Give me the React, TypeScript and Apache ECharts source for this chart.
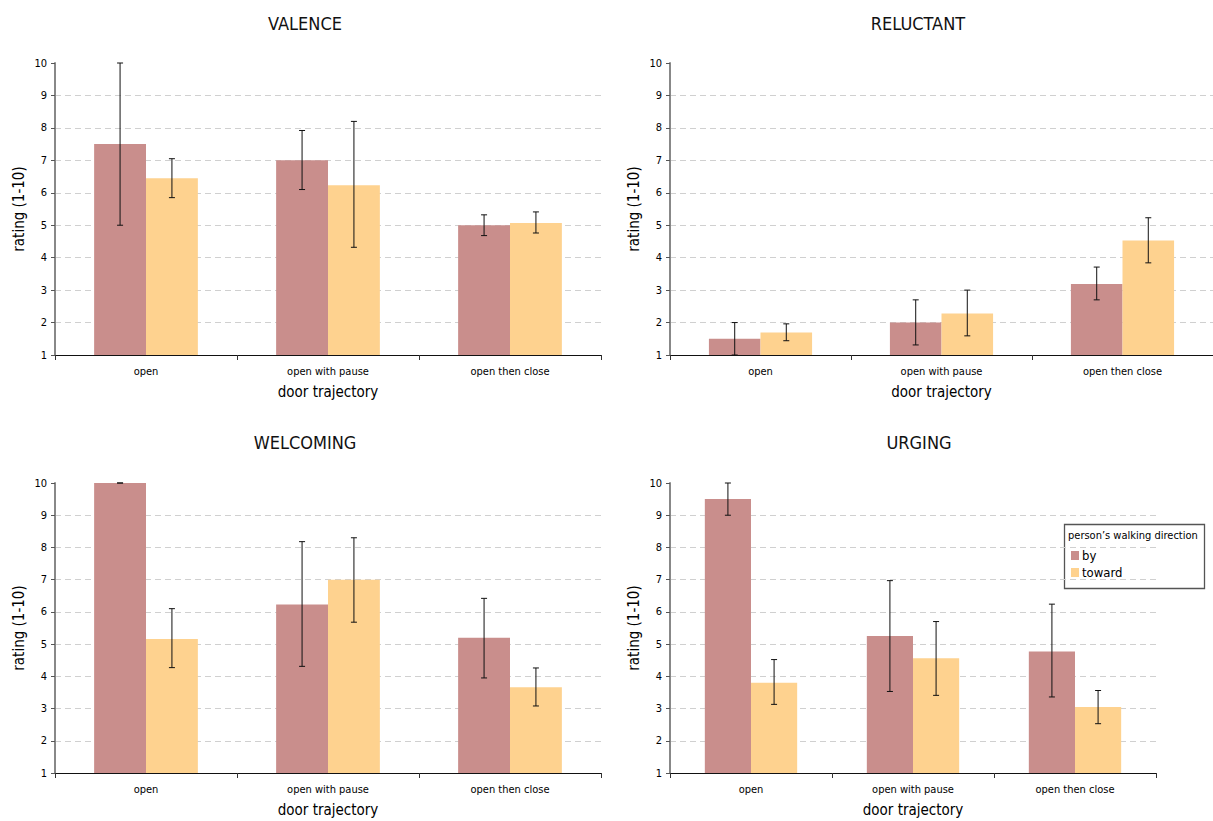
import React, { useEffect, useRef } from "react";
import * as echarts from "echarts";

const categories = ["open", "open with pause", "open then close"];
const seriesNames = ["by", "toward"];
const panelTitles = ["VALENCE", "RELUCTANT", "WELCOMING", "URGING"];
const legendTitle = "person’s walking direction";
const xAxisName = "door trajectory";
const yAxisName = "rating (1-10)";

const valenceBy = [7.5, 7.0, 5.0];
const valenceByLow = [5.0, 6.1, 4.68];
const valenceByHigh = [10.0, 7.92, 5.32];
const valenceToward = [6.45, 6.23, 5.07];
const valenceTowardLow = [5.85, 4.32, 4.76];
const valenceTowardHigh = [7.05, 8.2, 5.41];

const reluctantBy = [1.5, 2.0, 3.19];
const reluctantByLow = [1.0, 1.31, 2.7];
const reluctantByHigh = [2.0, 2.7, 3.71];
const reluctantToward = [1.69, 2.28, 4.53];
const reluctantTowardLow = [1.44, 1.59, 3.84];
const reluctantTowardHigh = [1.96, 3.0, 5.23];

const welcomingBy = [10.0, 6.23, 5.2];
const welcomingByLow = [10.0, 4.31, 3.95];
const welcomingByHigh = [10.0, 8.18, 6.42];
const welcomingToward = [5.16, 7.0, 3.66];
const welcomingTowardLow = [4.27, 5.68, 3.08];
const welcomingTowardHigh = [6.1, 8.3, 4.26];

const urgingBy = [9.5, 5.25, 4.77];
const urgingByLow = [9.0, 3.53, 3.36];
const urgingByHigh = [10.0, 6.97, 6.24];
const urgingToward = [3.8, 4.56, 3.05];
const urgingTowardLow = [3.13, 3.41, 2.53];
const urgingTowardHigh = [4.52, 5.7, 3.56];

const yMin = 1;
const yMax = 10;
const yInterval = 1;

const COLORS = ["#c98e8c", "#fed28f"];
const FONT = "'Liberation Sans Narrow', 'DejaVu Sans Condensed', 'Roboto', sans-serif";

const panels = [
  { title: panelTitles[0], by: valenceBy, byLow: valenceByLow, byHigh: valenceByHigh, tw: valenceToward, twLow: valenceTowardLow, twHigh: valenceTowardHigh },
  { title: panelTitles[1], by: reluctantBy, byLow: reluctantByLow, byHigh: reluctantByHigh, tw: reluctantToward, twLow: reluctantTowardLow, twHigh: reluctantTowardHigh },
  { title: panelTitles[2], by: welcomingBy, byLow: welcomingByLow, byHigh: welcomingByHigh, tw: welcomingToward, twLow: welcomingTowardLow, twHigh: welcomingTowardHigh },
  { title: panelTitles[3], by: urgingBy, byLow: urgingByLow, byHigh: urgingByHigh, tw: urgingToward, twLow: urgingTowardLow, twHigh: urgingTowardHigh },
];

const grids = [
  { left: 55, top: 63, width: 546, height: 292 },
  { left: 670, top: 63, width: 543, height: 292 },
  { left: 55, top: 483, width: 546, height: 290 },
  { left: 670, top: 483, width: 486, height: 290 },
];
const titlePos = [
  { x: 305, y: 23 },
  { x: 918, y: 23 },
  { x: 305, y: 442 },
  { x: 919, y: 442 },
];

const GAP = 0.43;

function errorSeries(gi: number, low: number[], high: number[], side: number) {
  return {
    type: "custom",
    xAxisIndex: gi,
    yAxisIndex: gi,
    silent: true,
    z: 10,
    encode: { x: 0, y: [1, 2] },
    data: low.map((l, i) => [i, l, high[i]]),
    renderItem: (params: any, api: any) => {
      const ci = api.value(0);
      const lo = api.coord([ci, api.value(1)]);
      const hi = api.coord([ci, api.value(2)]);
      const band = api.size([1, 0])[0];
      const x = lo[0] + side * band * (1 - GAP) / 4;
      const cap = 3;
      const st = { stroke: "#111", lineWidth: 1 };
      return {
        type: "group",
        children: [
          { type: "line", shape: { x1: x, y1: hi[1], x2: x, y2: lo[1] }, style: st },
          { type: "line", shape: { x1: x - cap, y1: hi[1], x2: x + cap, y2: hi[1] }, style: st },
          { type: "line", shape: { x1: x - cap, y1: lo[1], x2: x + cap, y2: lo[1] }, style: st },
        ],
      };
    },
  };
}

export default function App() {
  const ref = useRef<HTMLDivElement>(null);
  useEffect(() => {
    if (!ref.current) return;
    const chart = echarts.init(ref.current, null, { renderer: "svg" });
    const series: any[] = [];
    panels.forEach((p, gi) => {
      series.push({
        name: seriesNames[0],
        type: "bar",
        xAxisIndex: gi,
        yAxisIndex: gi,
        data: p.by,
        itemStyle: { color: COLORS[0] },
        barGap: "0%",
        barCategoryGap: GAP * 100 + "%",
      });
      series.push({
        name: seriesNames[1],
        type: "bar",
        xAxisIndex: gi,
        yAxisIndex: gi,
        data: p.tw,
        itemStyle: { color: COLORS[1] },
        barGap: "0%",
        barCategoryGap: GAP * 100 + "%",
      });
      series.push(errorSeries(gi, p.byLow, p.byHigh, -1));
      series.push(errorSeries(gi, p.twLow, p.twHigh, 1));
    });

    const option: any = {
      animation: false,
      backgroundColor: "#ffffff",
      textStyle: { fontFamily: FONT },
      grid: grids.map((g) => ({ ...g, containLabel: false })),
      xAxis: grids.map((_, gi) => ({
        type: "category",
        gridIndex: gi,
        data: categories,
        name: xAxisName,
        nameLocation: "middle",
        nameGap: 29,
        nameTextStyle: { fontSize: 15, color: "#000", fontFamily: FONT },
        axisLine: { lineStyle: { color: "#111", width: 1 } },
        axisTick: { show: true, length: 5, lineStyle: { color: "#333" } },
        axisLabel: { fontSize: 11, color: "#000", margin: 11, fontFamily: FONT },
        splitLine: { show: false },
      })),
      yAxis: grids.map((_, gi) => ({
        type: "value",
        gridIndex: gi,
        min: yMin,
        max: yMax,
        interval: yInterval,
        name: yAxisName,
        nameLocation: "middle",
        nameGap: 29,
        nameTextStyle: { fontSize: 15, color: "#000", fontFamily: FONT },
        axisLine: { show: true, lineStyle: { color: "#888", width: 2 } },
        axisTick: { show: true, length: 4, lineStyle: { color: "#555" } },
        axisLabel: { fontSize: 11, color: "#000", margin: 8, fontFamily: FONT },
        splitLine: {
          show: true,
          showMinLine: false,
          showMaxLine: false,
          lineStyle: { color: "#d0d0d0", type: [6, 4], width: 1 },
        },
      })),
      legend: {
        data: seriesNames,
        orient: "vertical",
        left: 1071,
        top: 549,
        padding: 0,
        itemWidth: 8,
        itemHeight: 9,
        itemGap: 4,
        icon: "rect",
        textStyle: { fontSize: 13, color: "#000", fontFamily: FONT, padding: [0, 0, 0, -2] },
      },
      graphic: [
        ...panelTitles.map((t, i) => ({
          type: "text",
          x: titlePos[i].x,
          y: titlePos[i].y,
          style: {
            text: t,
            fontSize: 18,
            fontFamily: FONT,
            fill: "#111",
            align: "center",
            verticalAlign: "middle",
          },
        })),
        {
          type: "rect",
          shape: { x: 1064.5, y: 524.5, width: 140, height: 64 },
          style: { fill: "none", stroke: "#555", lineWidth: 1.3 },
        },
        {
          type: "text",
          x: 1068,
          y: 535,
          style: {
            text: legendTitle,
            fontSize: 11,
            fontFamily: FONT,
            fill: "#000",
            verticalAlign: "middle",
          },
        },
      ],
      series,
    };
    chart.setOption(option);
    return () => chart.dispose();
  }, []);
  return (
    <div
      ref={ref}
      style={{ position: "fixed", left: 0, top: 0, width: 1213, height: 821, background: "#fff" }}
    />
  );
}
